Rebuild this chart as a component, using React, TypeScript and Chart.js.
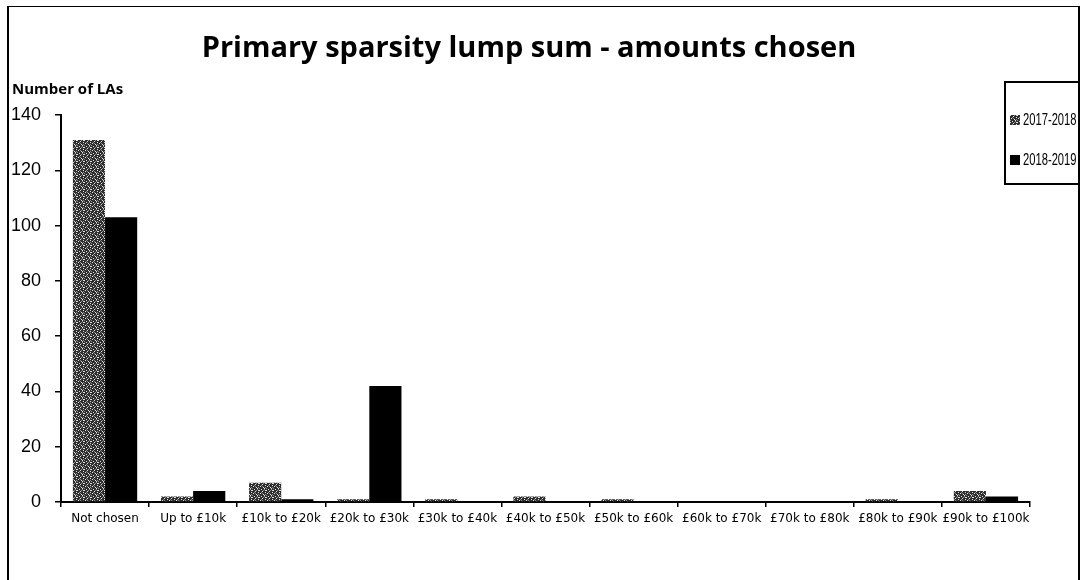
import React, { useEffect, useRef } from "react";
import { Chart, registerables } from "chart.js";

Chart.register(...registerables);

const categories = [
  "Not chosen",
  "Up to £10k",
  "£10k to £20k",
  "£20k to £30k",
  "£30k to £40k",
  "£40k to £50k",
  "£50k to £60k",
  "£60k to £70k",
  "£70k to £80k",
  "£80k to £90k",
  "£90k to £100k",
];
const seriesNames = ["2017-2018", "2018-2019"];
const values2017 = [131, 2, 7, 1, 1, 2, 1, 0, 0, 1, 4];
const values2018 = [103, 4, 1, 42, 0, 0, 0, 0, 0, 0, 2];
const yTicks = [0, 20, 40, 60, 80, 100, 120, 140];

function makeSpeckle(): CanvasPattern | string {
  const c = document.createElement("canvas");
  c.width = 7;
  c.height = 7;
  const ctx = c.getContext("2d");
  if (!ctx) return "#555";
  ctx.fillStyle = "#2e2e2e";
  ctx.fillRect(0, 0, 7, 7);
  ctx.fillStyle = "#e0e0e0";
  const dots = [
    [0, 0], [3, 1], [6, 2], [1, 3], [4, 4], [2, 6], [5, 5], [6, 0],
  ];
  dots.forEach(([x, y]) => ctx.fillRect(x, y, 1, 1));
  ctx.fillStyle = "#8a8a8a";
  [[2, 2], [4, 0], [0, 5], [3, 3], [5, 6], [6, 4]].forEach(([x, y]) => ctx.fillRect(x, y, 1, 1));
  const p = ctx.createPattern(c, "repeat");
  return p || "#555";
}

export default function App() {
  const ref = useRef<HTMLCanvasElement | null>(null);
  const swatchRef = useRef<HTMLCanvasElement | null>(null);

  useEffect(() => {
    if (!ref.current) return;
    const speckle = makeSpeckle();
    const chart = new Chart(ref.current, {
      type: "bar",
      data: {
        labels: categories,
        datasets: [
          {
            label: seriesNames[0],
            data: values2017,
            backgroundColor: speckle as any,
            borderWidth: 0,
            categoryPercentage: 0.73,
            barPercentage: 1.0,
          },
          {
            label: seriesNames[1],
            data: values2018,
            backgroundColor: "#000000",
            borderWidth: 0,
            categoryPercentage: 0.73,
            barPercentage: 1.0,
          },
        ],
      },
      options: {
        animation: false,
        responsive: true,
        maintainAspectRatio: false,
        layout: { padding: { left: 0, right: 52, top: 115, bottom: 0 } },
        plugins: {
          legend: { display: false },
          title: { display: false },
          tooltip: { enabled: false },
        },
        scales: {
          x: {
            afterFit: (s: any) => {
              s.height = 78;
            },
            grid: {
              offset: true,
              drawOnChartArea: false,
              drawTicks: true,
              tickLength: 5,
              color: "#000",
              lineWidth: 1.5,
            },
            border: { display: true, color: "#000", width: 2 },
            ticks: {
              color: "#000",
              font: { family: "DejaVu Sans", size: 12 },
              maxRotation: 0,
              minRotation: 0,
              autoSkip: false,
              padding: 5,
            },
          },
          y: {
            min: 0,
            max: 140,
            afterFit: (s: any) => {
              s.width = 61;
            },
            afterBuildTicks: (s: any) => {
              s.ticks = yTicks.map((v) => ({ value: v }));
            },
            grid: {
              drawOnChartArea: false,
              drawTicks: true,
              tickLength: 6,
              color: "#000",
              lineWidth: 1.5,
            },
            border: { display: true, color: "#000", width: 2 },
            ticks: {
              color: "#000",
              font: { family: "Liberation Sans", size: 18 },
              padding: 14,
            },
          },
        },
      },
    });

    const sc = swatchRef.current;
    if (sc) {
      const ctx = sc.getContext("2d");
      if (ctx) {
        ctx.fillStyle = speckle as any;
        ctx.fillRect(0, 0, 10, 10);
      }
    }
    return () => chart.destroy();
  }, []);

  const legendText: React.CSSProperties = {
    display: "inline-block",
    transform: "scaleX(0.7)",
    transformOrigin: "left center",
  };

  return (
    <div style={{ position: "absolute", left: 0, top: 0, width: 1082, height: 580, overflow: "hidden", background: "#fff" }}>
      <div
        style={{
          position: "absolute",
          left: 7,
          top: 6,
          width: 1073,
          height: 600,
          borderLeft: "2px solid #000",
          borderTop: "1.5px solid #000",
          borderRight: "2px solid #000",
          boxSizing: "border-box",
        }}
      />
      <div style={{ position: "absolute", left: 0, top: 0, width: 1082, height: 580 }}>
        <canvas ref={ref} />
      </div>
      <div
        style={{
          position: "absolute",
          left: 0,
          width: 1058,
          top: 27,
          textAlign: "center",
          fontFamily: "Open Sans",
          fontWeight: 700,
          fontSize: 29,
          lineHeight: "38px",
          color: "#000",
        }}
      >
        Primary sparsity lump sum - amounts chosen
      </div>
      <div
        style={{
          position: "absolute",
          left: 12,
          top: 78,
          fontFamily: "Open Sans",
          fontWeight: 700,
          fontSize: 15,
          lineHeight: "20px",
          color: "#000",
        }}
      >
        Number of LAs
      </div>
      <div
        style={{
          position: "absolute",
          left: 1004,
          top: 81,
          width: 76,
          height: 104,
          border: "2px solid #000",
          boxSizing: "border-box",
          fontFamily: "Liberation Sans",
          fontSize: 16,
          color: "#000",
        }}
      >
        <div style={{ position: "absolute", left: 4, top: 28, display: "flex", alignItems: "center", whiteSpace: "nowrap" }}>
          <canvas ref={swatchRef} width={10} height={10} style={{ width: 10, height: 10, marginRight: 3 }} />
          <span style={legendText}>{seriesNames[0]}</span>
        </div>
        <div style={{ position: "absolute", left: 4, top: 68, display: "flex", alignItems: "center", whiteSpace: "nowrap" }}>
          <span style={{ display: "inline-block", width: 10, height: 10, background: "#000", marginRight: 3 }} />
          <span style={legendText}>{seriesNames[1]}</span>
        </div>
      </div>
    </div>
  );
}
